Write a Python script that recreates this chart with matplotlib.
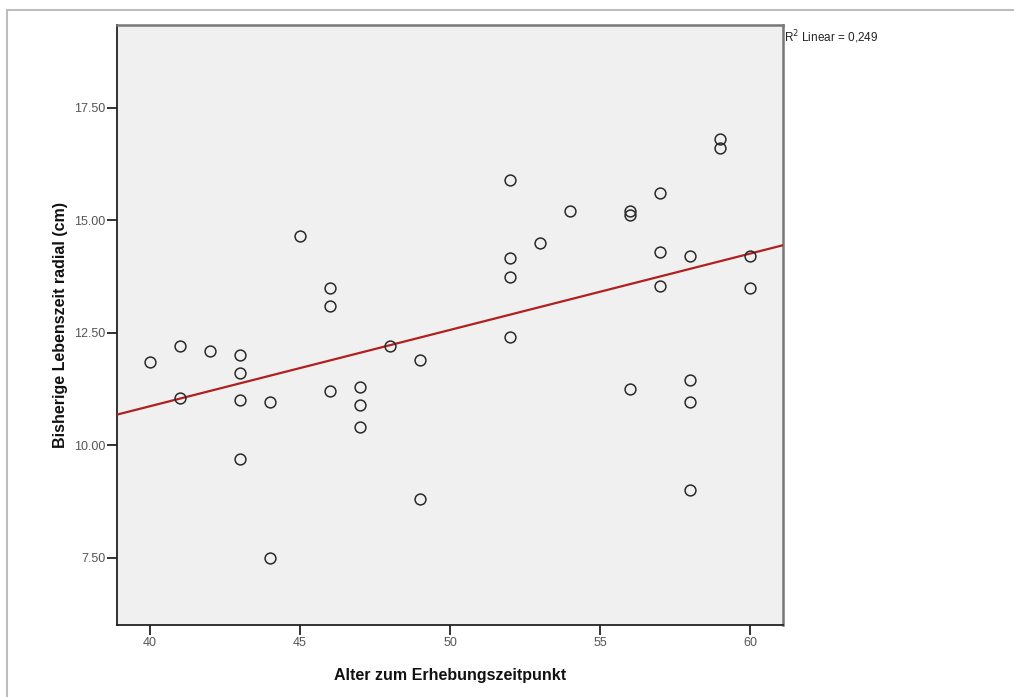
import matplotlib.pyplot as plt
import numpy as np
from matplotlib.lines import Line2D

# Alter (Jahre) und bisherige Lebenszeit radial (cm)
alter = np.array([40, 41, 41, 42, 43, 43, 43, 43, 44, 44,
                  45, 46, 46, 46, 47, 47, 47, 48, 49, 49,
                  52, 52, 52, 52, 53, 54, 56, 56, 56, 57,
                  57, 57, 58, 58, 58, 58, 59, 59, 60, 60])
lebenszeit = np.array([11.86, 12.20, 11.06, 12.10, 12.01, 11.61, 11.01, 9.70, 10.96, 7.50,
                       14.66, 13.50, 13.10, 11.21, 11.30, 10.90, 10.41, 12.21, 11.90, 8.80,
                       15.90, 14.17, 13.75, 12.41, 14.50, 15.20, 15.20, 15.11, 11.26, 15.60,
                       14.30, 13.54, 14.21, 11.46, 10.96, 9.00, 16.81, 16.60, 14.21, 13.50])

x_ticks = [40, 45, 50, 55, 60]
y_ticks = [7.5, 10.0, 12.5, 15.0, 17.5]

plt.rcParams['font.family'] = ['Liberation Sans', 'DejaVu Sans']

fig = plt.figure(figsize=(10.14, 6.97), dpi=100)
ax = fig.add_axes([0.1154, 0.1033, 0.6568, 0.8608])
ax.set_facecolor('#f0f0f0')

# Punkte
ax.plot(alter, lebenszeit, 'o', markersize=7.8, markerfacecolor='none',
        markeredgecolor='#2a2a2a', markeredgewidth=1.1, zorder=4)

# lineare Anpassung
slope, intercept = np.polyfit(alter, lebenszeit, 1)
xlim = (38.9, 61.1)
xs = np.array(xlim)
ax.plot(xs, slope * xs + intercept, color='#b02020', linewidth=1.6, zorder=3)

ax.set_xlim(*xlim)
ax.set_ylim(6.01, 19.34)
ax.set_xticks(x_ticks)
ax.set_yticks(y_ticks)
ax.set_xticklabels([str(v) for v in x_ticks])
ax.set_yticklabels([f'{v:.2f}' for v in y_ticks])
ax.tick_params(axis='both', direction='out', length=7, width=1.3,
               color='#222222', labelcolor='#555555', labelsize=9, pad=1.5)

for side in ['left', 'bottom']:
    ax.spines[side].set_color('#222222')
    ax.spines[side].set_linewidth(1.3)
for side in ['top', 'right']:
    ax.spines[side].set_color('#777777')
    ax.spines[side].set_linewidth(1.8)

ax.set_xlabel('Alter zum Erhebungszeitpunkt', fontsize=11.5, fontweight='bold',
              labelpad=14, color='#111111')
ax.set_ylabel('Bisherige Lebenszeit radial (cm)', fontsize=11.5, fontweight='bold',
              labelpad=4, color='#111111')

fig.text(0.7735, 0.947, 'R$^2$ Linear = 0,249',
         fontsize=8.5, color='#222222', va='center', ha='left')

# grauer Rahmen oben und links
fig.add_artist(Line2D([0.007, 1.0], [0.986, 0.986], transform=fig.transFigure,
                      color='#bdbdbd', linewidth=1.5))
fig.add_artist(Line2D([0.007, 0.007], [0.0, 0.986], transform=fig.transFigure,
                      color='#bdbdbd', linewidth=1.5))

fig.savefig('out.png', dpi=100, facecolor='white')
